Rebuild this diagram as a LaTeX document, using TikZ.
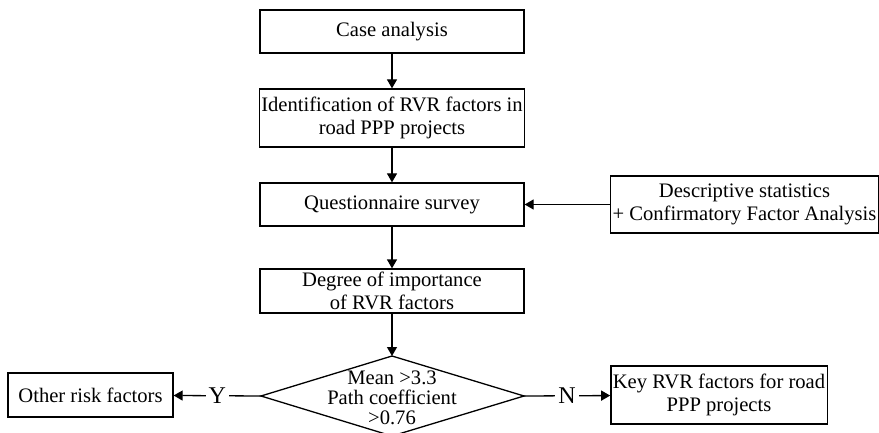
\documentclass[tikz,border=0pt]{standalone}
\usepackage{fontspec}
\setmainfont{Liberation Serif}
\usetikzlibrary{arrows.meta}

\tikzset{
  stepbox/.style={draw, line width=0.65pt, align=center, inner xsep=1pt, inner ysep=0.5pt,
    font=\fontsize{10.3}{11.5}\selectfont},
  flow/.style={line width=0.65pt, -{Triangle[length=4.5pt,width=5pt]}},
  yesno/.style={fill=white, inner sep=1.5pt, font=\fontsize{12}{14}\selectfont}
}

\begin{document}
\begin{tikzpicture}[x=0.5pt,y=-0.5pt]
%%Location
\useasboundingbox (0,0) rectangle (879,433);
%%Main column
\node[stepbox, minimum width=132pt, minimum height=21.5pt] (case) at (392,31.5) {Case analysis};
\node[stepbox, minimum width=132pt, minimum height=29pt] (ident) at (392,118) {Identification of RVR factors in\\ road PPP projects};
\node[stepbox, minimum width=132pt, minimum height=21.5pt] (quest) at (392,204.5) {Questionnaire survey};
\node[stepbox, minimum width=132pt, minimum height=22pt] (degree) at (392,291) {Degree of importance\\ of RVR factors};
\node[stepbox, minimum width=132.5pt, minimum height=28.5pt] (desc) at (744.5,204.5) {Descriptive statistics\\ + Confirmatory Factor Analysis};
%%Decision
\coordinate (dt) at (392,356);
\coordinate (dr) at (524,396);
\coordinate (db) at (392,436);
\coordinate (dl) at (261,396);
\draw[line width=0.65pt] (dt) -- (dr) -- (db) -- (dl) -- cycle;
\node[align=center, inner sep=0pt, font=\fontsize{10.3}{10}\selectfont] (cond) at (392,398) {Mean \textgreater3.3\\ Path coefficient\\ \textgreater0.76};
%%Outcomes
\node[stepbox, minimum width=82.5pt, minimum height=22pt] (other) at (90.5,395) {Other risk factors};
\node[stepbox, minimum width=107pt, minimum height=29pt] (key) at (719,395) {Key RVR factors for road\\ PPP projects};
%%Arrows
\draw[flow] (case) -- (ident);
\draw[flow] (ident) -- (quest);
\draw[flow] (quest) -- (degree);
\draw[flow] (degree) -- (dt);
\draw[flow] (desc) -- (quest);
\draw[flow] (dl) -- node[yesno] {Y} (other);
\draw[flow] (dr) -- node[yesno] {N} (key);
\end{tikzpicture}
\end{document}
